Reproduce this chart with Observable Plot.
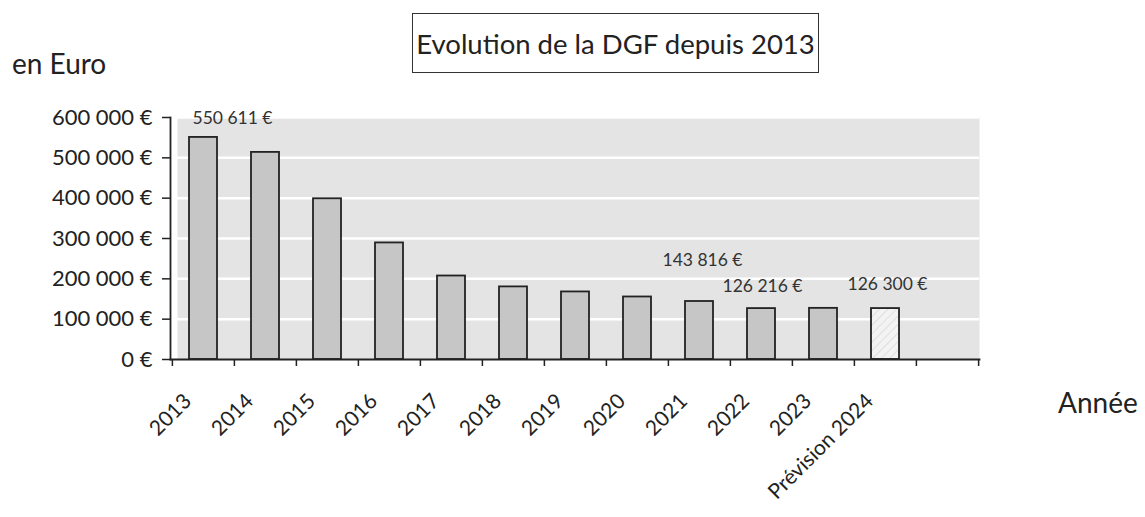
<!DOCTYPE html>
<html>
<head>
<meta charset="utf-8">
<script src="https://cdn.jsdelivr.net/npm/d3@7"></script>
<script src="https://cdn.jsdelivr.net/npm/@observablehq/plot@0.6"></script>
<style>
  html, body { margin: 0; padding: 0; background: #fff; }
  #wrap { position: relative; width: 1145px; height: 517px; font-family: Lato, "Open Sans", sans-serif; color: #222; }
  #title { position: absolute; left: 412px; top: 13px; width: 407px; height: 60px; border: 1.5px solid #333; box-sizing: border-box;
           display: flex; align-items: center; justify-content: center; font-size: 27.5px; white-space: nowrap; }
  #yl { position: absolute; left: 12px; top: 46px; font-size: 28px; }
  #xl { position: absolute; left: 1058px; top: 385px; font-size: 28px; }
  #chart { position: absolute; left: 0; top: 0; }
</style>
</head>
<body>
<div id="wrap">
  <div id="chart"></div>
  <div id="title">Evolution de la DGF depuis 2013</div>
  <div id="yl">en Euro</div>
  <div id="xl">Année</div>
</div>
<script>
const categories = ["2013","2014","2015","2016","2017","2018","2019","2020","2021","2022","2023","Prévision 2024",""];
const values = [550611, 513500, 398500, 289000, 207000, 180000, 167500, 155000, 143816, 126216, 126800, 126300];
const yTicks = [0, 100000, 200000, 300000, 400000, 500000, 600000];
const labelCats = ["2013", "2021", "2022", "Prévision 2024"];

const data = values.map((v, i) => ({cat: categories[i], value: v, forecast: categories[i].startsWith("Prévision")}));
const labels = data.filter(d => labelCats.includes(d.cat));

const fr = d3.formatLocale({decimal: ",", thousands: " ", grouping: [3], currency: ["", " €"]});
const eur = fr.format("$,.0f");

const step = (1145 - 170 - 166) / categories.length;

function lab(cat, dx, dy) {
  return Plot.text(labels.filter(d => d.cat === cat), {
    x: "cat", y: "value", text: d => eur(d.value), dx, dy,
    fontSize: 17.5, fill: "#333", fontFamily: "Lato, sans-serif"
  });
}

const chart = Plot.plot({
  width: 1145,
  height: 517,
  marginLeft: 170,
  marginRight: 166,
  marginTop: 117,
  marginBottom: 158,
  style: {fontFamily: "Lato, sans-serif", color: "#222", background: "transparent"},
  x: {type: "band", domain: categories, paddingInner: 0.55, paddingOuter: 0.275, axis: null},
  y: {domain: [0, 600000], axis: null},
  marks: [
    Plot.frame({fill: "#e4e4e4", stroke: null, insetLeft: 7}),
    Plot.ruleY(yTicks.slice(1), {stroke: "#ffffff", strokeWidth: 2.5, insetLeft: 7}),
    Plot.barY(data, {x: "cat", y: "value", fill: d => d.forecast ? "url(#hatch)" : "#c6c6c6", stroke: "#222", strokeWidth: 1.8}),
    Plot.axisY({ticks: yTicks, tickFormat: eur, tickSize: 8, tickPadding: 10, fontSize: 22, label: null, stroke: "#222", strokeWidth: 1.5, fill: "#222"}),
    Plot.frame({anchor: "left", stroke: "#222", strokeWidth: 1.8}),
    Plot.frame({anchor: "bottom", stroke: "#222", strokeWidth: 1.8}),
    Plot.axisX({tickSize: 7, tickFormat: null, dx: -step / 2, label: null, stroke: "#222", strokeWidth: 1.5}),
    Plot.axisX({ticks: [""], tickSize: 7, tickFormat: null, dx: step / 2, label: null, stroke: "#222", strokeWidth: 1.5}),
    Plot.text(categories.filter(c => c !== ""), {
      x: d => d, text: d => d, frameAnchor: "bottom", rotate: -45, textAnchor: "end",
      dx: -11, dy: 43, fontSize: 21, fill: "#222"
    }),
    lab("2013", 29, -19),
    lab("2021", 3, -41),
    lab("2022", 1, -22),
    lab("Prévision 2024", 2, -24)
  ]
});

const defs = `<defs><pattern id="hatch" patternUnits="userSpaceOnUse" width="6" height="6" patternTransform="rotate(45)">
<rect width="6" height="6" fill="#f3f3f3"/><line x1="0" y1="0" x2="0" y2="6" stroke="#d2d2d2" stroke-width="1.2"/></pattern></defs>`;
chart.insertAdjacentHTML("afterbegin", defs);
document.getElementById("chart").appendChild(chart);
</script>
</body>
</html>
